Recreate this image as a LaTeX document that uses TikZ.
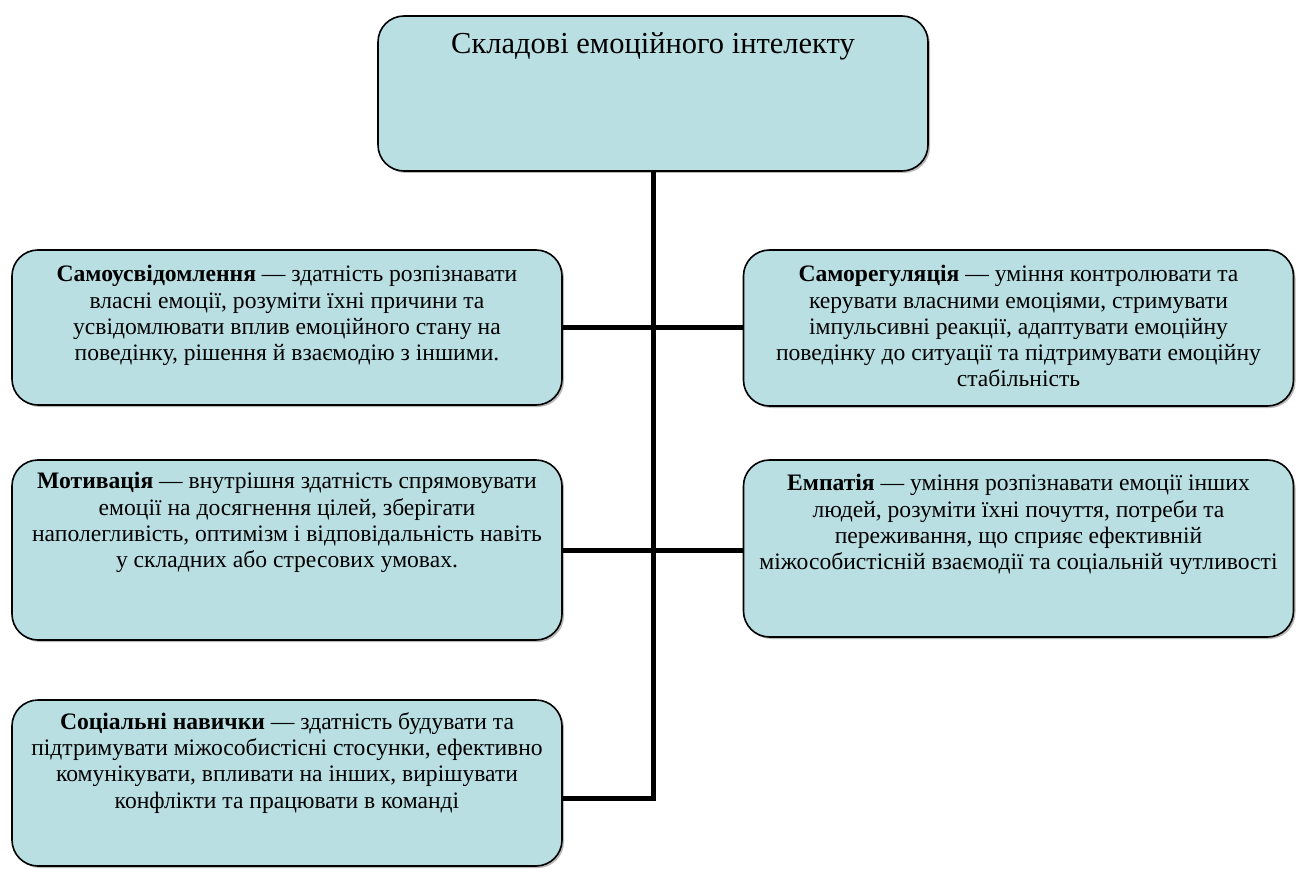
\documentclass[tikz,border=0pt]{standalone}
\usepackage{fontspec}
\setmainfont{Liberation Serif}
\usetikzlibrary{shadows}
\definecolor{boxfill}{RGB}{185,223,227}
\begin{document}
\begin{tikzpicture}[x=1pt,y=-1pt,
  card/.style={draw=black, line width=1.6pt, fill=boxfill, rounded corners=26pt,
    minimum width=550pt, inner sep=0pt,
    drop shadow={shadow xshift=2pt, shadow yshift=-2pt, fill=black!45, opacity=0.6}},
  txt/.style={anchor=north, align=center, inner sep=0pt,
    font=\fontsize{23.6pt}{26.3pt}\selectfont},
  conn/.style={line width=5pt}]
\useasboundingbox (0,0) rectangle (1296,869);
% boxes
\node[card, minimum height=155pt] (top) at (653,93.5) {};
\node[card, minimum height=155pt] (l1) at (287,327.5) {};
\node[card, minimum height=156pt] (r1) at (1018.5,328) {};
\node[card, minimum height=180pt] (l2) at (287,550) {};
\node[card, minimum height=177pt] (r2) at (1018.5,548.5) {};
\node[card, minimum height=166pt] (l3) at (287,783) {};
% texts
\node[txt, font=\fontsize{30.5pt}{34pt}\selectfont] (ttop) at ([yshift=-17pt]top.north) {Складові емоційного інтелекту};
\node[txt] (tl1) at ([yshift=-16pt]l1.north) {\textbf{Самоусвідомлення} — здатність розпізнавати\\власні емоції, розуміти їхні причини та\\усвідомлювати вплив емоційного стану на\\поведінку, рішення й взаємодію з іншими.};
\node[txt] (tr1) at ([yshift=-16pt]r1.north) {\textbf{Саморегуляція} — уміння контролювати та\\керувати власними емоціями, стримувати\\імпульсивні реакції, адаптувати емоційну\\поведінку до ситуації та підтримувати емоційну\\стабільність};
\node[txt] (tl2) at ([yshift=-13pt]l2.north) {\textbf{Мотивація} — внутрішня здатність спрямовувати\\емоції на досягнення цілей, зберігати\\наполегливість, оптимізм і відповідальність навіть\\у складних або стресових умовах.};
\node[txt] (tr2) at ([yshift=-15pt]r2.north) {\textbf{Емпатія} — уміння розпізнавати емоції інших\\людей, розуміти їхні почуття, потреби та\\переживання, що сприяє ефективній\\міжособистісній взаємодії та соціальній чутливості};
\node[txt] (tl3) at ([yshift=-13pt]l3.north) {\textbf{Соціальні навички} — здатність будувати та\\підтримувати міжособистісні стосунки, ефективно\\комунікувати, впливати на інших, вирішувати\\конфлікти та працювати в команді};
% connectors
\coordinate (l3c) at ([yshift=-15pt]l3.east);
\coordinate (bend) at (top.south |- l3c);
\draw[conn, line join=miter] (top.south) -- (bend) -- (l3c);
\draw[conn] (l1.east) -- (l1.east -| r1.west);
\draw[conn] (l2.east) -- (l2.east -| r2.west);
\end{tikzpicture}
\end{document}
